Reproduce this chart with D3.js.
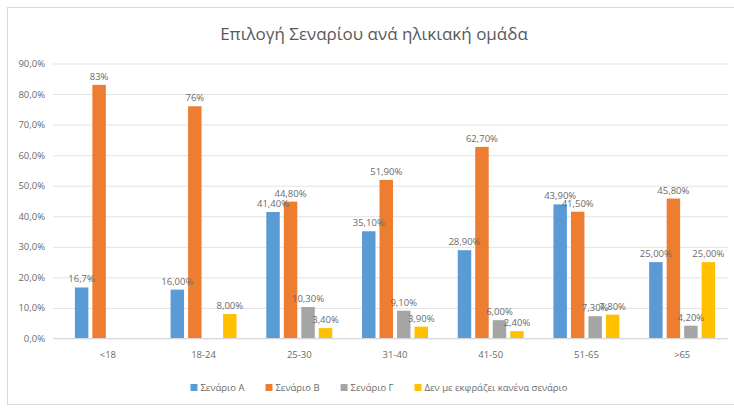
<!DOCTYPE html>
<html>
<head>
<meta charset="utf-8">
<script src="https://cdn.jsdelivr.net/npm/d3@7"></script>
<style>
  html, body { margin: 0; padding: 0; background: #fff; }
  svg { display: block; font-family: "Open Sans", "Noto Sans", sans-serif; }
</style>
</head>
<body>
<svg id="chart" width="734" height="408"></svg>
<script>
// Age groups on the category axis
const categories = ["<18", "18-24", "25-30", "31-40", "41-50", "51-65", ">65"];

// Series names shown in the legend
const seriesNames = ["Σενάριο Α", "Σενάριο Β", "Σενάριο Γ", "Δεν με εκφράζει κανένα σενάριο"];

// Percentages per age group (null = no answer recorded)
const scenarioA = [16.7, 16.0, 41.4, 35.1, 28.9, 43.9, 25.0];
const scenarioB = [83, 76, 44.8, 51.9, 62.7, 41.5, 45.8];
const scenarioC = [null, null, 10.3, 9.1, 6.0, 7.3, 4.2];
const noneOfThem = [null, 8.0, 3.4, 3.9, 2.4, 7.8, 25.0];

// Decimal places used in each data label
const digitsA = [1, 2, 2, 2, 2, 2, 2];
const digitsB = [0, 0, 2, 2, 2, 2, 2];
const digitsC = [2, 2, 2, 2, 2, 2, 2];
const digitsNone = [2, 2, 2, 2, 2, 2, 2];

// Value axis ticks
const yTicks = [0, 10, 20, 30, 40, 50, 60, 70, 80, 90];

const title = "Επιλογή Σεναρίου ανά ηλικιακή ομάδα";
const colors = ["#5B9BD5", "#ED7D31", "#A5A5A5", "#FFC000"];
const textColor = "#6a6a6a";

const seriesValues = [scenarioA, scenarioB, scenarioC, noneOfThem];
const seriesDigits = [digitsA, digitsB, digitsC, digitsNone];

const svg = d3.select("#chart");
const W = 734, H = 408;

// chart frame
svg.append("rect")
  .attr("x", 7.5).attr("y", 7.5)
  .attr("width", W - 4).attr("height", H - 4 - 7)
  .attr("fill", "#fff").attr("stroke", "#d9d9d9").attr("stroke-width", 1);

// title
svg.append("text")
  .attr("x", 374).attr("y", 40)
  .attr("text-anchor", "middle")
  .attr("font-size", 17)
  .attr("fill", "#595959")
  .text(title);

const gridLeft = 53, gridRight = 728;
const y = d3.scaleLinear().domain([0, 90]).range([338.5, 63.5]);
const x0 = d3.scaleBand().domain(categories).range([60, 730]);
const groupW = 70;
const x1 = d3.scaleBand().domain(d3.range(seriesNames.length))
  .range([0, groupW]).paddingInner(0.23).paddingOuter(0.115);

const fmtTick = d => d3.format(".1f")(d).replace(".", ",") + "%";

// value axis with gridlines
const yAxis = svg.append("g")
  .attr("transform", `translate(${gridLeft},0)`)
  .call(d3.axisLeft(y).tickValues(yTicks).tickSize(-(gridRight - gridLeft)).tickPadding(8).tickFormat(fmtTick));
yAxis.select(".domain").remove();
yAxis.selectAll(".tick line").attr("stroke", "#e3e3e3");
yAxis.selectAll(".tick text")
  .attr("fill", textColor).attr("font-size", 9.5)
  .attr("font-family", "'Open Sans', 'Noto Sans', sans-serif");

// bars
const rows = [];
categories.forEach((c, i) => {
  seriesValues.forEach((vals, s) => {
    if (vals[i] != null) rows.push({ cat: c, s, v: vals[i], digits: seriesDigits[s][i] });
  });
});

const groupOffset = (x0.bandwidth() - groupW) / 2;
const bx = d => x0(d.cat) + groupOffset + x1(d.s);

svg.append("g").selectAll("rect").data(rows).join("rect")
  .attr("x", bx)
  .attr("y", d => y(d.v))
  .attr("width", x1.bandwidth())
  .attr("height", d => y(0) - y(d.v))
  .attr("fill", d => colors[d.s]);

// category axis
const xAxis = svg.append("g")
  .attr("transform", `translate(0,${y(0)})`)
  .call(d3.axisBottom(x0).tickSize(0).tickPadding(13));
xAxis.select(".domain").attr("stroke", "#d9d9d9").attr("d", `M${gridLeft},0H${gridRight}`);
xAxis.selectAll(".tick text")
  .attr("fill", textColor).attr("font-size", 9.5)
  .attr("font-family", "'Open Sans', 'Noto Sans', sans-serif");

// data labels
svg.append("g").selectAll("text").data(rows).join("text")
  .attr("x", d => bx(d) + x1.bandwidth() / 2)
  .attr("y", d => y(d.v) - 5)
  .attr("text-anchor", "middle")
  .attr("font-size", 9.5)
  .attr("fill", textColor)
  .text(d => d3.format(`.${d.digits}f`)(d.v).replace(".", ",") + "%");

// legend
const legend = svg.append("g").attr("font-size", 9.5).attr("fill", textColor);
const items = legend.selectAll("g").data(seriesNames).join("g");
items.append("rect").attr("width", 7).attr("height", 7).attr("y", -6)
  .attr("fill", (d, i) => colors[i]);
items.append("text").attr("x", 10).attr("y", 0.5).text(d => d);
const widths = [];
items.each(function () {
  widths.push(this.querySelector("text").getComputedTextLength() + 10);
});
const gap = 21;
const total = d3.sum(widths) + gap * (widths.length - 1);
let start = 379 - total / 2;
items.attr("transform", (d, i) => {
  const t = `translate(${start},390)`;
  start += widths[i] + gap;
  return t;
});
</script>
</body>
</html>
